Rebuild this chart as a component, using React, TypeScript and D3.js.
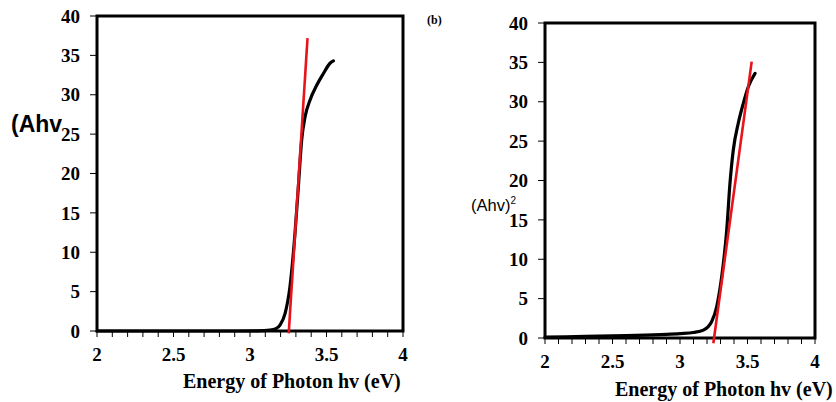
import * as d3 from 'd3';

// panel (a) measured curve
const energyA = [2.0, 2.5, 2.9, 3.05, 3.13, 3.17, 3.196, 3.229, 3.261, 3.294, 3.316, 3.338, 3.36, 3.392, 3.436, 3.48, 3.523, 3.545];
const ahvA = [0, 0, 0, 0.02, 0.1, 0.3, 0.76, 2.2, 5.6, 12.4, 18.3, 24.3, 27.2, 29.3, 31.2, 32.7, 34.0, 34.3];
const fitA = [
  [3.253, -0.3],
  [3.376, 37.2],
];

// panel (b) measured curve
const energyB = [2.0, 2.3, 2.6, 2.9, 3.0, 3.1, 3.173, 3.235, 3.272, 3.309, 3.346, 3.37, 3.395, 3.432, 3.469, 3.506, 3.556];
const ahvB = [0.1, 0.2, 0.3, 0.45, 0.55, 0.7, 1.0, 2.1, 4.0, 7.8, 13.7, 19.6, 23.9, 27.3, 29.8, 31.9, 33.6];
const fitB = [
  [3.247, -0.67],
  [3.531, 35.1],
];

const xTicks = [2, 2.5, 3, 3.5, 4];
const yTicks = [0, 5, 10, 15, 20, 25, 30, 35, 40];
const xTitle = 'Energy of Photon hv (eV)';

const serif = 'Liberation Serif';
const sans = 'Liberation Sans';

interface PanelProps {
  left: number;
  right: number;
  top: number;
  bottom: number;
  xs: number[];
  ys: number[];
  fit: number[][];
  titleX: number;
  titleY: number;
}

const Panel = ({ left, right, top, bottom, xs, ys, fit, titleX, titleY }: PanelProps) => {
  const x = d3.scaleLinear().domain([2, 4]).range([left, right]);
  const y = d3.scaleLinear().domain([0, 40]).range([bottom, top]);

  const line = d3
    .line<number>()
    .x((_, i) => x(xs[i]))
    .y((d) => y(d))
    .curve(d3.curveMonotoneX);

  const fitLine = d3
    .line<number[]>()
    .x((d) => x(d[0]))
    .y((d) => y(d[1]));

  // minor ticks every 0.1 eV under the x axis
  const minor = d3.range(20, 41).map((v) => v / 10);

  return (
    <g>
      <rect x={left} y={top} width={right - left} height={bottom - top} fill="none" stroke="#000" strokeWidth={3} />
      {minor.map((t) => (
        <line key={t} x1={x(t)} x2={x(t)} y1={bottom} y2={bottom + 6} stroke="#000" strokeWidth={1} />
      ))}
      {yTicks.map((t) => (
        <g key={t}>
          <line x1={left - 7} x2={left} y1={y(t)} y2={y(t)} stroke="#000" strokeWidth={1} />
          <text
            x={left - 17}
            y={y(t)}
            dy="0.35em"
            textAnchor="end"
            style={{ fontFamily: serif, fontWeight: 'bold', fontSize: 19 }}
          >
            {t}
          </text>
        </g>
      ))}
      {xTicks.map((t) => (
        <text
          key={t}
          x={x(t)}
          y={bottom + 30}
          textAnchor="middle"
          style={{ fontFamily: serif, fontWeight: 'bold', fontSize: 19 }}
        >
          {t}
        </text>
      ))}
      <text x={titleX} y={titleY} style={{ fontFamily: serif, fontWeight: 'bold', fontSize: 20 }}>
        {xTitle}
      </text>
      <path d={line(ys) ?? ''} fill="none" stroke="#000" strokeWidth={3.2} strokeLinecap="round" />
      <path d={fitLine(fit) ?? ''} fill="none" stroke="#e8141b" strokeWidth={2.6} />
    </g>
  );
};

export default function App() {
  return (
    <svg width={836} height={402} style={{ position: 'absolute', left: 0, top: 0, background: '#fff' }}>
      <rect width={836} height={402} fill="#fff" />
      <Panel left={97} right={403} top={16} bottom={331} xs={energyA} ys={ahvA} fit={fitA} titleX={183} titleY={388} />
      <Panel left={545} right={815} top={23} bottom={338} xs={energyB} ys={ahvB} fit={fitB} titleX={615} titleY={396} />
      <text x={11} y={132} style={{ fontFamily: sans, fontWeight: 'bold', fontSize: 23 }}>
        (Ahv
      </text>
      <text x={427} y={24} style={{ fontFamily: serif, fontWeight: 'bold', fontSize: 12 }}>
        (b)
      </text>
      <text x={471} y={211} style={{ fontFamily: sans, fontSize: 16.5 }}>
        (Ahv)<tspan fontSize={10} dy={-7}>2</tspan>
      </text>
    </svg>
  );
}
